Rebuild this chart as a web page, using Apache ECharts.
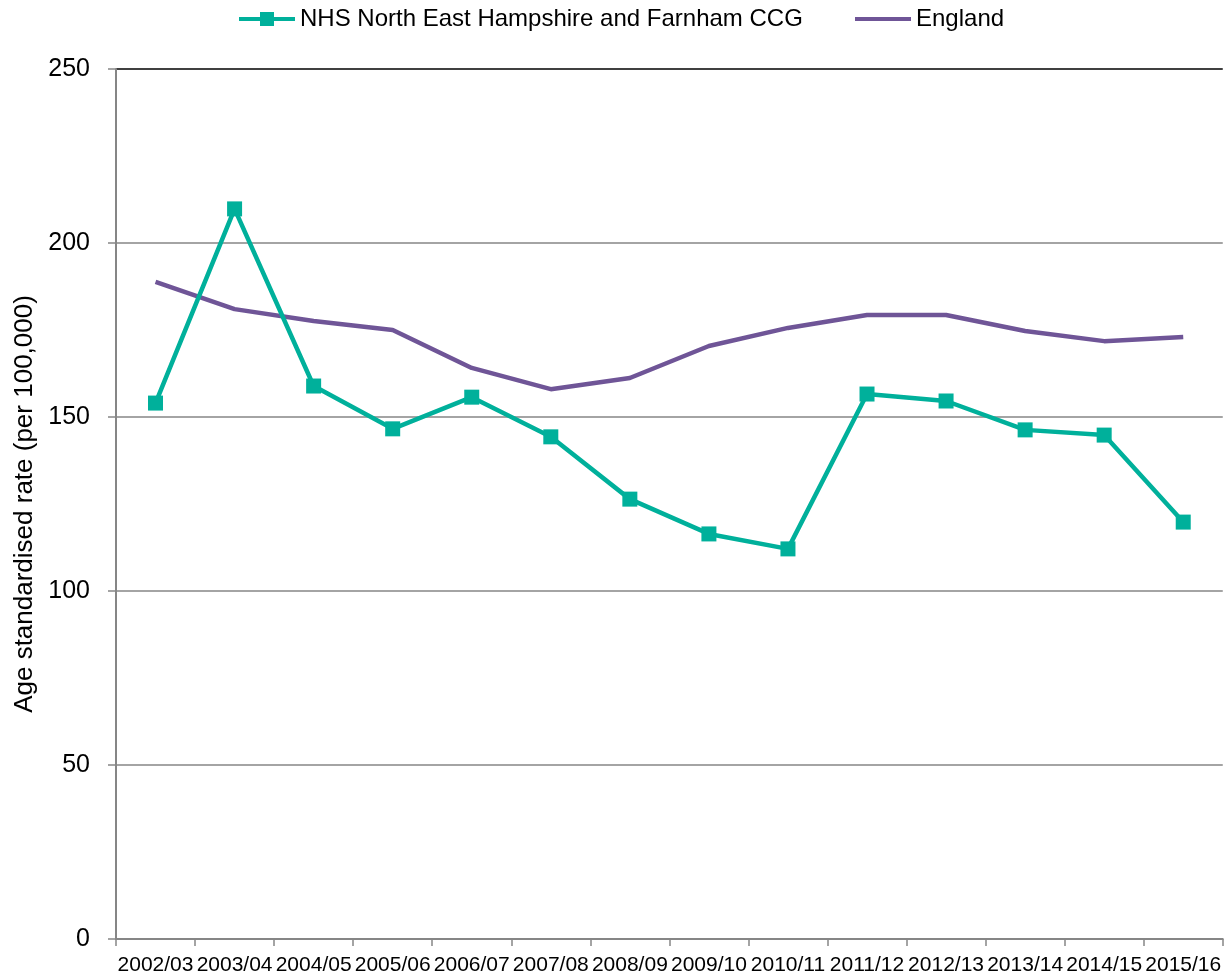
<!DOCTYPE html>
<html>
<head>
<meta charset="utf-8">
<script src="https://cdn.jsdelivr.net/npm/echarts@6/dist/echarts.min.js"></script>
<style>html,body{margin:0;padding:0;background:#fff}#c{width:1224px;height:977px}</style>
</head>
<body>
<div id="c"></div>
<script>
const categories = ['2002/03','2003/04','2004/05','2005/06','2006/07','2007/08','2008/09','2009/10','2010/11','2011/12','2012/13','2013/14','2014/15','2015/16'];
const nhsValues = [154.0, 209.8, 158.9, 146.6, 155.7, 144.3, 126.4, 116.4, 112.1, 156.6, 154.6, 146.3, 144.8, 119.8];
const englandValues = [188.8, 181.0, 177.6, 175.0, 164.1, 158.0, 161.2, 170.4, 175.6, 179.3, 179.3, 174.7, 171.8, 173.0];
const yTicks = [0, 50, 100, 150, 200, 250];

const font = 'Liberation Sans, Arial, sans-serif';
const NHS = 'NHS North East Hampshire and Farnham CCG';
const ENG = 'England';
const teal = '#00B09B';
const purple = '#6F5597';
const chart = echarts.init(document.getElementById('c'));
chart.setOption({
  animation: false,
  backgroundColor: '#fff',
  textStyle: { fontFamily: font },
  legend: [
    {
      top: 2, left: 234,
      itemWidth: 56, itemHeight: 14,
      textStyle: { fontSize: 24, color: '#000', fontFamily: font },
      data: [{ name: NHS, icon: 'path://M0,5H21V0H35V5H56V9H35V14H21V9H0Z' }]
    },
    {
      top: 2, left: 850,
      itemWidth: 56, itemHeight: 4,
      textStyle: { fontSize: 24, color: '#000', fontFamily: font },
      data: [{ name: ENG, icon: 'rect' }]
    }
  ],
  grid: { left: 116, right: -4, top: 69, bottom: 38, containLabel: false },
  xAxis: {
    type: 'category',
    data: categories,
    boundaryGap: true,
    axisLine: { lineStyle: { color: '#868686', width: 2 } },
    axisTick: { show: true, length: 7, lineStyle: { color: '#868686', width: 1.5 } },
    axisLabel: { color: '#000', fontSize: 21, margin: 16, fontFamily: font, interval: 0 }
  },
  yAxis: {
    type: 'value',
    min: yTicks[0], max: yTicks[yTicks.length - 1], interval: 50,
    name: 'Age standardised rate (per 100,000)',
    nameLocation: 'middle',
    nameGap: 78,
    nameTextStyle: { fontSize: 26, color: '#000', fontFamily: font },
    axisLine: { show: true, lineStyle: { color: '#868686', width: 2 } },
    axisTick: { show: true, length: 8, lineStyle: { color: '#868686', width: 1.5 } },
    axisLabel: { color: '#000', fontSize: 25, margin: 26, fontFamily: font },
    splitLine: { show: true, lineStyle: { color: ['#868686','#868686','#868686','#868686','#868686','#000000'], width: 1.5 } }
  },
  series: [
    {
      name: NHS,
      type: 'line',
      data: nhsValues,
      symbol: 'rect',
      symbolSize: 15,
      lineStyle: { color: teal, width: 4.5 },
      itemStyle: { color: teal },
      z: 3
    },
    {
      name: ENG,
      type: 'line',
      data: englandValues,
      symbol: 'none',
      showSymbol: false,
      lineStyle: { color: purple, width: 4.5 },
      itemStyle: { color: purple },
      z: 2
    }
  ]
});
</script>
</body>
</html>
